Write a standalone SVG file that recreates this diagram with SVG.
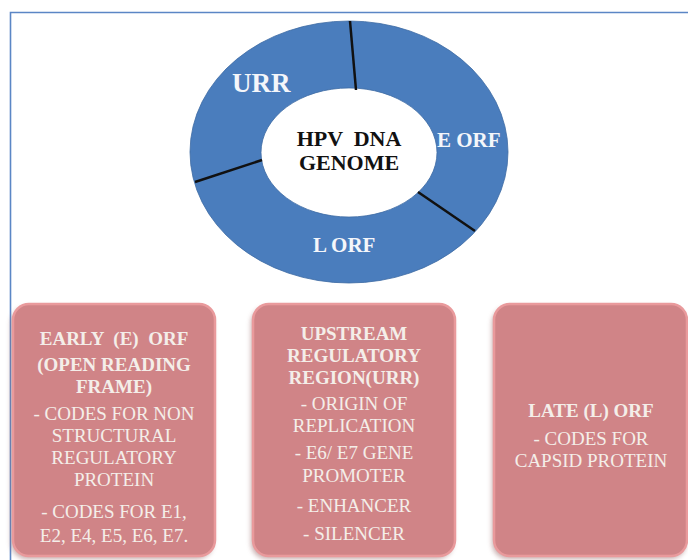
<svg xmlns="http://www.w3.org/2000/svg" width="688" height="560" viewBox="0 0 688 560">
<defs>
<style>
.box{fill:#d08487;stroke:#e99a9c;stroke-width:2.5}
.shadow{fill:#9a6a6a;opacity:0.55}
.bt{font-size:19px;fill:#f4eee9;text-anchor:middle}
.bb{font-weight:bold}
.ring{font-weight:bold;fill:#f4f6fa}
.div{stroke:#111;stroke-width:2.5}
</style>
<filter id="blur" x="-10%" y="-10%" width="120%" height="120%"><feGaussianBlur stdDeviation="2.5"/></filter>
</defs>
<rect width="688" height="560" fill="#ffffff"/>
<path d="M10.5 560 V12.5 H688" fill="none" stroke="#5b86c5" stroke-width="1.6"/>

<g id="genome" font-family="Liberation Serif, Times New Roman, serif">
<path fill-rule="evenodd" fill="#4a7dbd" stroke="#3e6ba3" stroke-width="0.8" d="M190 152 A159 131 0 1 0 508 152 A159 131 0 1 0 190 152 Z M261 152.5 A88 64.5 0 1 0 437 152.5 A88 64.5 0 1 0 261 152.5 Z"/>
<text x="349" y="146" font-weight="bold" font-size="22" fill="#111" text-anchor="middle" xml:space="preserve">HPV  DNA</text>
<text x="349" y="170" font-weight="bold" font-size="22" fill="#111" text-anchor="middle">GENOME</text>
</g>
<g id="labels" font-family="Liberation Serif, Times New Roman, serif">
<text class="ring" x="232" y="92" font-size="27">URR</text>
<text class="ring" x="437" y="147" font-size="21">E ORF</text>
<text class="ring" x="313" y="252" font-size="21">L ORF</text>
</g>
<g id="connectors">
<line class="div" x1="350" y1="21" x2="356" y2="90"/>
<line class="div" x1="195" y1="182" x2="262" y2="160"/>
<line class="div" x1="418" y1="192" x2="475" y2="231"/>
</g>

<g id="early" font-family="Liberation Serif, Times New Roman, serif">
<rect class="shadow" x="11" y="307" width="202" height="252" rx="16" filter="url(#blur)"/>
<rect class="box" x="13" y="304" width="202" height="252" rx="16"/>
<text class="bt bb" x="114" y="345" xml:space="preserve">EARLY  (E)  ORF</text>
<text class="bt bb" x="114" y="371">(OPEN READING</text>
<text class="bt bb" x="114" y="393">FRAME)</text>
<text class="bt" x="114" y="420">- CODES FOR NON</text>
<text class="bt" x="114" y="442">STRUCTURAL</text>
<text class="bt" x="114" y="464">REGULATORY</text>
<text class="bt" x="114" y="486">PROTEIN</text>
<text class="bt" x="114" y="518">- CODES FOR E1,</text>
<text class="bt" x="114" y="542">E2, E4, E5, E6, E7.</text>
</g>

<g id="urr" font-family="Liberation Serif, Times New Roman, serif">
<rect class="shadow" x="251" y="307" width="202" height="252" rx="16" filter="url(#blur)"/>
<rect class="box" x="253" y="304" width="202" height="252" rx="16"/>
<text class="bt bb" x="354" y="340">UPSTREAM</text>
<text class="bt bb" x="354" y="362">REGULATORY</text>
<text class="bt bb" x="354" y="384">REGION(URR)</text>
<text class="bt" x="354" y="410">- ORIGIN OF</text>
<text class="bt" x="354" y="432">REPLICATION</text>
<text class="bt" x="354" y="459">- E6/ E7 GENE</text>
<text class="bt" x="354" y="482">PROMOTER</text>
<text class="bt" x="354" y="512">- ENHANCER</text>
<text class="bt" x="354" y="540">- SILENCER</text>
</g>

<g id="late" font-family="Liberation Serif, Times New Roman, serif">
<rect class="shadow" x="492" y="307" width="194" height="252" rx="16" filter="url(#blur)"/>
<rect class="box" x="494" y="304" width="193" height="252" rx="16"/>
<text class="bt bb" x="591" y="417">LATE (L) ORF</text>
<text class="bt" x="591" y="445">- CODES FOR</text>
<text class="bt" x="591" y="467">CAPSID PROTEIN</text>
</g>
</svg>
